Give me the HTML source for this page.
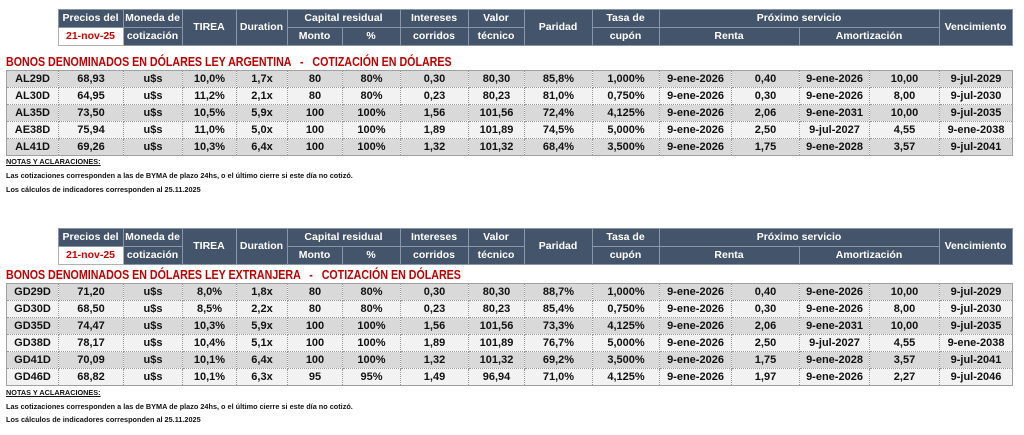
<!DOCTYPE html>
<html><head><meta charset="utf-8"><style>
body{margin:0;width:1024px;height:435px;background:#fff;position:relative;overflow:hidden;font-family:"Liberation Sans",Arial,sans-serif;font-weight:bold;}
table{border-collapse:collapse;table-layout:fixed;position:absolute;left:6px;}
td{padding:0;text-align:center;white-space:nowrap;overflow:hidden;}
.h td{background:#44546a;color:#fff;font-size:10.5px;border:1px solid #8a96a8;line-height:17px;}
.h td.e{background:#fff;border:none;}
.h td.d{background:#fff;color:#d00000;border:1px solid #b0b0b0;}
.r td{height:16px;font-size:11px;color:#111;border-left:1px dotted #999;border-right:1px dotted #999;border-bottom:1px dotted #999;line-height:16px;}
.r tr:nth-child(odd) td{background:#d9d9d9;}
.r tr:nth-child(even) td{background:#f2f2f2;}
.r{border:1px solid #a0a0a0;}
.t{position:absolute;left:6px;color:#c00000;font-size:13px;transform:scaleX(0.82);transform-origin:left top;white-space:nowrap;}
.n{position:absolute;left:6px;font-size:7.3px;color:#111;}
</style></head><body>
<table class="h" style="top:9px;width:1006px">
<colgroup><col style="width:52px"><col style="width:65px"><col style="width:59px"><col style="width:54px"><col style="width:51px"><col style="width:55px"><col style="width:58px"><col style="width:68px"><col style="width:56px"><col style="width:68px"><col style="width:67px"><col style="width:72px"><col style="width:68px"><col style="width:70px"><col style="width:70px"><col style="width:73px"></colgroup>
<tr><td class="e" rowspan="2"></td><td>Precios del</td><td>Moneda de</td><td rowspan="2">TIREA</td><td rowspan="2">Duration</td><td colspan="2">Capital residual</td><td>Intereses</td><td>Valor</td><td rowspan="2">Paridad</td><td>Tasa de</td><td colspan="4">Próximo servicio</td><td rowspan="2">Vencimiento</td></tr>
<tr><td class="d">21-nov-25</td><td>cotización</td><td>Monto</td><td>%</td><td>corridos</td><td>técnico</td><td>cupón</td><td colspan="2">Renta</td><td colspan="2">Amortización</td></tr>
</table>
<div class="t" style="top:54px">BONOS DENOMINADOS EN DÓLARES LEY ARGENTINA &nbsp;&nbsp;- &nbsp;&nbsp;COTIZACIÓN EN DÓLARES</div>
<table class="r" style="top:70px;width:1006px">
<colgroup><col style="width:52px"><col style="width:65px"><col style="width:59px"><col style="width:54px"><col style="width:51px"><col style="width:55px"><col style="width:58px"><col style="width:68px"><col style="width:56px"><col style="width:68px"><col style="width:67px"><col style="width:72px"><col style="width:68px"><col style="width:70px"><col style="width:70px"><col style="width:73px"></colgroup>
<tr><td>AL29D</td><td>68,93</td><td>u$s</td><td>10,0%</td><td>1,7x</td><td>80</td><td>80%</td><td>0,30</td><td>80,30</td><td>85,8%</td><td>1,000%</td><td>9-ene-2026</td><td>0,40</td><td>9-ene-2026</td><td>10,00</td><td>9-jul-2029</td></tr>
<tr><td>AL30D</td><td>64,95</td><td>u$s</td><td>11,2%</td><td>2,1x</td><td>80</td><td>80%</td><td>0,23</td><td>80,23</td><td>81,0%</td><td>0,750%</td><td>9-ene-2026</td><td>0,30</td><td>9-ene-2026</td><td>8,00</td><td>9-jul-2030</td></tr>
<tr><td>AL35D</td><td>73,50</td><td>u$s</td><td>10,5%</td><td>5,9x</td><td>100</td><td>100%</td><td>1,56</td><td>101,56</td><td>72,4%</td><td>4,125%</td><td>9-ene-2026</td><td>2,06</td><td>9-ene-2031</td><td>10,00</td><td>9-jul-2035</td></tr>
<tr><td>AE38D</td><td>75,94</td><td>u$s</td><td>11,0%</td><td>5,0x</td><td>100</td><td>100%</td><td>1,89</td><td>101,89</td><td>74,5%</td><td>5,000%</td><td>9-ene-2026</td><td>2,50</td><td>9-jul-2027</td><td>4,55</td><td>9-ene-2038</td></tr>
<tr><td>AL41D</td><td>69,26</td><td>u$s</td><td>10,3%</td><td>6,4x</td><td>100</td><td>100%</td><td>1,32</td><td>101,32</td><td>68,4%</td><td>3,500%</td><td>9-ene-2026</td><td>1,75</td><td>9-ene-2028</td><td>3,57</td><td>9-jul-2041</td></tr>
</table>
<div class="n" style="top:157px;text-decoration:underline">NOTAS Y ACLARACIONES:</div>
<div class="n" style="top:171px">Las cotizaciones corresponden a las de BYMA de plazo 24hs, o el último cierre si este día no cotizó.</div>
<div class="n" style="top:185px">Los cálculos de indicadores corresponden al 25.11.2025</div>

<table class="h" style="top:228px;width:1006px">
<colgroup><col style="width:52px"><col style="width:65px"><col style="width:59px"><col style="width:54px"><col style="width:51px"><col style="width:55px"><col style="width:58px"><col style="width:68px"><col style="width:56px"><col style="width:68px"><col style="width:67px"><col style="width:72px"><col style="width:68px"><col style="width:70px"><col style="width:70px"><col style="width:73px"></colgroup>
<tr><td class="e" rowspan="2"></td><td>Precios del</td><td>Moneda de</td><td rowspan="2">TIREA</td><td rowspan="2">Duration</td><td colspan="2">Capital residual</td><td>Intereses</td><td>Valor</td><td rowspan="2">Paridad</td><td>Tasa de</td><td colspan="4">Próximo servicio</td><td rowspan="2">Vencimiento</td></tr>
<tr><td class="d">21-nov-25</td><td>cotización</td><td>Monto</td><td>%</td><td>corridos</td><td>técnico</td><td>cupón</td><td colspan="2">Renta</td><td colspan="2">Amortización</td></tr>
</table>
<div class="t" style="top:267px">BONOS DENOMINADOS EN DÓLARES LEY EXTRANJERA &nbsp;&nbsp;- &nbsp;&nbsp;COTIZACIÓN EN DÓLARES</div>
<table class="r" style="top:283px;width:1006px">
<colgroup><col style="width:52px"><col style="width:65px"><col style="width:59px"><col style="width:54px"><col style="width:51px"><col style="width:55px"><col style="width:58px"><col style="width:68px"><col style="width:56px"><col style="width:68px"><col style="width:67px"><col style="width:72px"><col style="width:68px"><col style="width:70px"><col style="width:70px"><col style="width:73px"></colgroup>
<tr><td>GD29D</td><td>71,20</td><td>u$s</td><td>8,0%</td><td>1,8x</td><td>80</td><td>80%</td><td>0,30</td><td>80,30</td><td>88,7%</td><td>1,000%</td><td>9-ene-2026</td><td>0,40</td><td>9-ene-2026</td><td>10,00</td><td>9-jul-2029</td></tr>
<tr><td>GD30D</td><td>68,50</td><td>u$s</td><td>8,5%</td><td>2,2x</td><td>80</td><td>80%</td><td>0,23</td><td>80,23</td><td>85,4%</td><td>0,750%</td><td>9-ene-2026</td><td>0,30</td><td>9-ene-2026</td><td>8,00</td><td>9-jul-2030</td></tr>
<tr><td>GD35D</td><td>74,47</td><td>u$s</td><td>10,3%</td><td>5,9x</td><td>100</td><td>100%</td><td>1,56</td><td>101,56</td><td>73,3%</td><td>4,125%</td><td>9-ene-2026</td><td>2,06</td><td>9-ene-2031</td><td>10,00</td><td>9-jul-2035</td></tr>
<tr><td>GD38D</td><td>78,17</td><td>u$s</td><td>10,4%</td><td>5,1x</td><td>100</td><td>100%</td><td>1,89</td><td>101,89</td><td>76,7%</td><td>5,000%</td><td>9-ene-2026</td><td>2,50</td><td>9-jul-2027</td><td>4,55</td><td>9-ene-2038</td></tr>
<tr><td>GD41D</td><td>70,09</td><td>u$s</td><td>10,1%</td><td>6,4x</td><td>100</td><td>100%</td><td>1,32</td><td>101,32</td><td>69,2%</td><td>3,500%</td><td>9-ene-2026</td><td>1,75</td><td>9-ene-2028</td><td>3,57</td><td>9-jul-2041</td></tr>
<tr><td>GD46D</td><td>68,82</td><td>u$s</td><td>10,1%</td><td>6,3x</td><td>95</td><td>95%</td><td>1,49</td><td>96,94</td><td>71,0%</td><td>4,125%</td><td>9-ene-2026</td><td>1,97</td><td>9-ene-2026</td><td>2,27</td><td>9-jul-2046</td></tr>
</table>
<div class="n" style="top:388px;text-decoration:underline">NOTAS Y ACLARACIONES:</div>
<div class="n" style="top:402px">Las cotizaciones corresponden a las de BYMA de plazo 24hs, o el último cierre si este día no cotizó.</div>
<div class="n" style="top:415px">Los cálculos de indicadores corresponden al 25.11.2025</div>
</body></html>
